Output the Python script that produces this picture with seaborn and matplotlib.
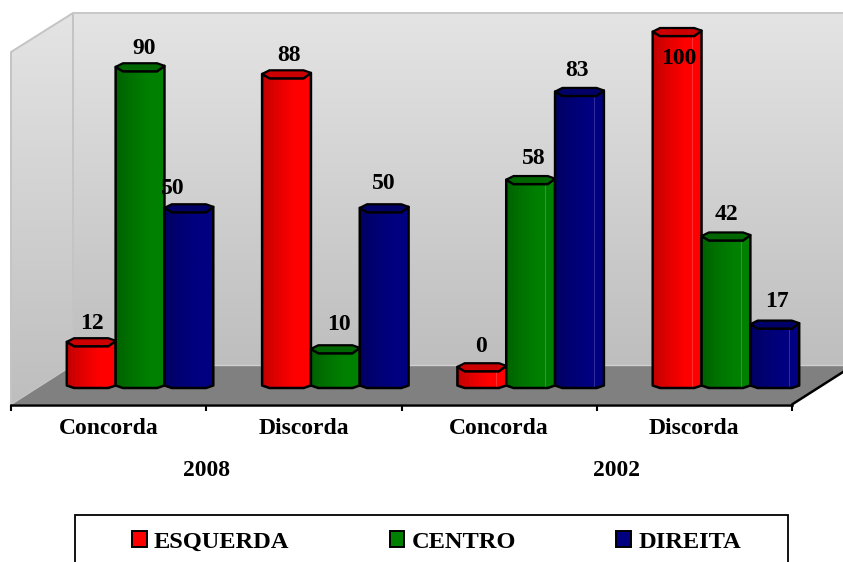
import numpy as np
import pandas as pd
import matplotlib
matplotlib.use("Agg")
import matplotlib.pyplot as plt
from matplotlib.colors import LinearSegmentedColormap, to_rgb
from matplotlib.patches import Patch, Polygon, Rectangle
import seaborn as sns

# Survey answers by political position
answers = ["Concorda", "Discorda", "Concorda", "Discorda"]
years = ["2008", "2002"]
esquerda = [12, 88, 0, 100]
centro = [90, 10, 58, 42]
direita = [50, 50, 83, 17]
series_names = ["ESQUERDA", "CENTRO", "DIREITA"]
series_colors = ["#ff0000", "#008000", "#000080"]

# Label nudges in pixels, per series then per group
label_dx = [[1, 2.5, -1, 2], [4.5, 4, 3, 0], [-16, 0, -2, 2]]
label_up = [[19, 19, 37.5, -27], [19, 25, 22, 21.5], [20, 25, 21, 22.6]]

W, H = 843, 562
PX_PER_UNIT = 3.525
Y_ZERO = 384.5
SERIF = "Liberation Serif"
LABEL_SIZE = 17

sns.set_theme(style="white")
plt.rcParams["font.family"] = SERIF
plt.rcParams["font.weight"] = "bold"

fig = plt.figure(figsize=(W / 100, H / 100), dpi=100, facecolor="white")


def px_rect(x0, x1, y_top, y_bottom):
    return [x0 / W, 1 - y_bottom / H, (x1 - x0) / W, (y_bottom - y_top) / H]


# Backdrop in pixel coordinates: walls, floor and legend frame
bg = fig.add_axes([0, 0, 1, 1], zorder=0)
bg.set_xlim(0, W)
bg.set_ylim(H, 0)
bg.axis("off")

wall_cmap = LinearSegmentedColormap.from_list("wall", ["#e4e4e4", "#bebebe"])
ramp = np.linspace(0, 1, 128)[:, None]
back = bg.imshow(ramp, extent=(73, 860, 365, 13), cmap=wall_cmap, aspect="auto", zorder=1)
side_shape = Polygon([(11, 52), (73, 13), (73, 365), (11, 405)], closed=True, fc="none", ec="none")
bg.add_patch(side_shape)
side = bg.imshow(ramp, extent=(11, 73, 405, 13), cmap=wall_cmap, aspect="auto", zorder=1)
side.set_clip_path(side_shape)
bg.plot([11, 11, 73, 73], [405, 52, 13, 365], color="#c4c4c4", lw=1.4, zorder=2)
bg.plot([73, 860], [13, 13], color="#c8c8c8", lw=1.4, zorder=2)
bg.add_patch(Polygon([(11, 404.5), (792, 404.5), (854, 365), (73, 365)], closed=True,
                     fc="#808080", ec="none", zorder=3))
bg.plot([73, 854], [364.5, 364.5], color="#d0d0d0", lw=1.0, zorder=3)
bg.plot([11, 73], [404.5, 365], color="#c4c4c4", lw=1.0, zorder=3)
bg.plot([792, 854], [404.5, 365], color="black", lw=1.8, zorder=4)
bg.add_patch(Rectangle((75, 515), 713, 60, fc="white", ec="black", lw=1.3, zorder=2))
bg.set_xlim(0, W)
bg.set_ylim(H, 0)

for year, x_pos in zip(years, [207, 616]):
    bg.text(x_pos, 470, year, ha="center", va="center", fontsize=LABEL_SIZE,
            fontweight="bold", color="black", zorder=5)

# Category axis along the front edge of the floor
axis_ax = fig.add_axes(px_rect(11, 792, 395, 404.5), zorder=1)
axis_ax.patch.set_alpha(0)
axis_ax.set_xlim(-0.5, 3.5)
axis_ax.set_ylim(0, 1)
axis_ax.set_yticks([])
for name in ("top", "left", "right"):
    axis_ax.spines[name].set_visible(False)
axis_ax.spines["bottom"].set_color("black")
axis_ax.spines["bottom"].set_linewidth(1.8)
axis_ax.set_xticks([-0.5, 0.5, 1.5, 2.5, 3.5])
axis_ax.set_xticklabels([])
axis_ax.tick_params(axis="x", which="major", length=4, width=1.5, color="black", bottom=True)
axis_ax.set_xticks(range(4), minor=True)
axis_ax.set_xticklabels(answers, minor=True, fontsize=LABEL_SIZE, fontweight="bold", color="black")
axis_ax.tick_params(axis="x", which="minor", length=0, pad=10)

# Bars
groups = ["2008 Concorda", "2008 Discorda", "2002 Concorda", "2002 Discorda"]
table = pd.DataFrame({
    "group": groups * 3,
    "series": np.repeat(series_names, 4),
    "value": esquerda + centro + direita,
})

y_low, y_high = -10, 104
ax = fig.add_axes(px_rect(42.4, 823.6, Y_ZERO - y_high * PX_PER_UNIT, Y_ZERO - y_low * PX_PER_UNIT), zorder=2)
ax.patch.set_alpha(0)
sns.barplot(data=table, x="group", y="value", hue="series", order=groups,
            hue_order=series_names, palette=series_colors, width=0.75, gap=0,
            legend=False, linewidth=0, ax=ax)
ax.axis("off")

rim = 4 / PX_PER_UNIT         # half height of a bar's end cap
scallop = 3.5 / PX_PER_UNIT   # how far the base curves below zero
stub = 4.9                    # visible thickness of an empty cylinder


def draw_cylinder(x0, width, height, color, z, ridge):
    top = max(height, stub)
    xs = x0 + np.array([0, 0.15, 0.85, 1]) * width
    rgb = np.array(to_rgb(color))
    cmap = LinearSegmentedColormap.from_list(
        "shade", [rgb * 0.78, rgb * 0.9, rgb, rgb], N=12)
    body_pts = [(xs[0], top + 0.1), (xs[1], top - rim), (xs[2], top - rim), (xs[3], top + 0.4),
                (xs[3], -1 / PX_PER_UNIT), (xs[2], -scallop), (xs[1], -scallop),
                (xs[0], -1 / PX_PER_UNIT)]
    body = Polygon(body_pts, closed=True, fc="none", ec="black", lw=1.8, zorder=z + 0.2,
                   joinstyle="round")
    ax.add_patch(body)
    shade = ax.imshow(np.linspace(0, 1, 24)[None, :], extent=(xs[0], xs[3], -scallop, top + rim),
                      cmap=cmap, aspect="auto", origin="lower", zorder=z)
    shade.set_clip_path(body)
    if ridge:
        line_x = x0 + 0.8 * width
        ax.plot([line_x, line_x], [-scallop + 0.3, top - rim], color="white", alpha=0.18,
                lw=0.8, zorder=z + 0.1)
    cap_pts = [(xs[0], top + 0.1), (xs[1], top + rim), (xs[2], top + rim), (xs[3], top + 0.4),
               (xs[2], top - rim), (xs[1], top - rim)]
    ax.add_patch(Polygon(cap_pts, closed=True, fc=rgb * 0.8, ec="black", lw=1.6, zorder=z + 0.3,
                         joinstyle="round"))


for s, container in enumerate(ax.containers):
    for g, bar in enumerate(container.patches):
        draw_cylinder(bar.get_x(), bar.get_width(), bar.get_height(), series_colors[s],
                      z=3 + g + s * 0.5, ridge=g >= 2)
        ax.annotate(f"{bar.get_height():.0f}",
                    xy=(bar.get_x() + bar.get_width() / 2, bar.get_height()),
                    xytext=(label_dx[s][g] * 0.72, label_up[s][g] * 0.72),
                    textcoords="offset points", ha="center", va="center",
                    fontsize=LABEL_SIZE, fontweight="bold", color="black", zorder=20,
                    annotation_clip=False)

ax.set_xlim(-0.5, 3.5)
ax.set_ylim(y_low, y_high)

# Legend
handles = [Patch(facecolor=c, edgecolor="black", linewidth=1.4, label=n)
           for c, n in zip(series_colors, series_names)]
fig.legend(handles=handles, ncol=3, loc="center", bbox_to_anchor=(436.5 / W, 1 - 542 / H),
           frameon=False, prop={"family": SERIF, "weight": "bold", "size": 17.6},
           handlelength=0.6, handleheight=0.6, handletextpad=0.3, columnspacing=4.1,
           labelcolor="black", borderpad=0, borderaxespad=0)

fig.savefig("out.png", dpi=100, facecolor="white")
